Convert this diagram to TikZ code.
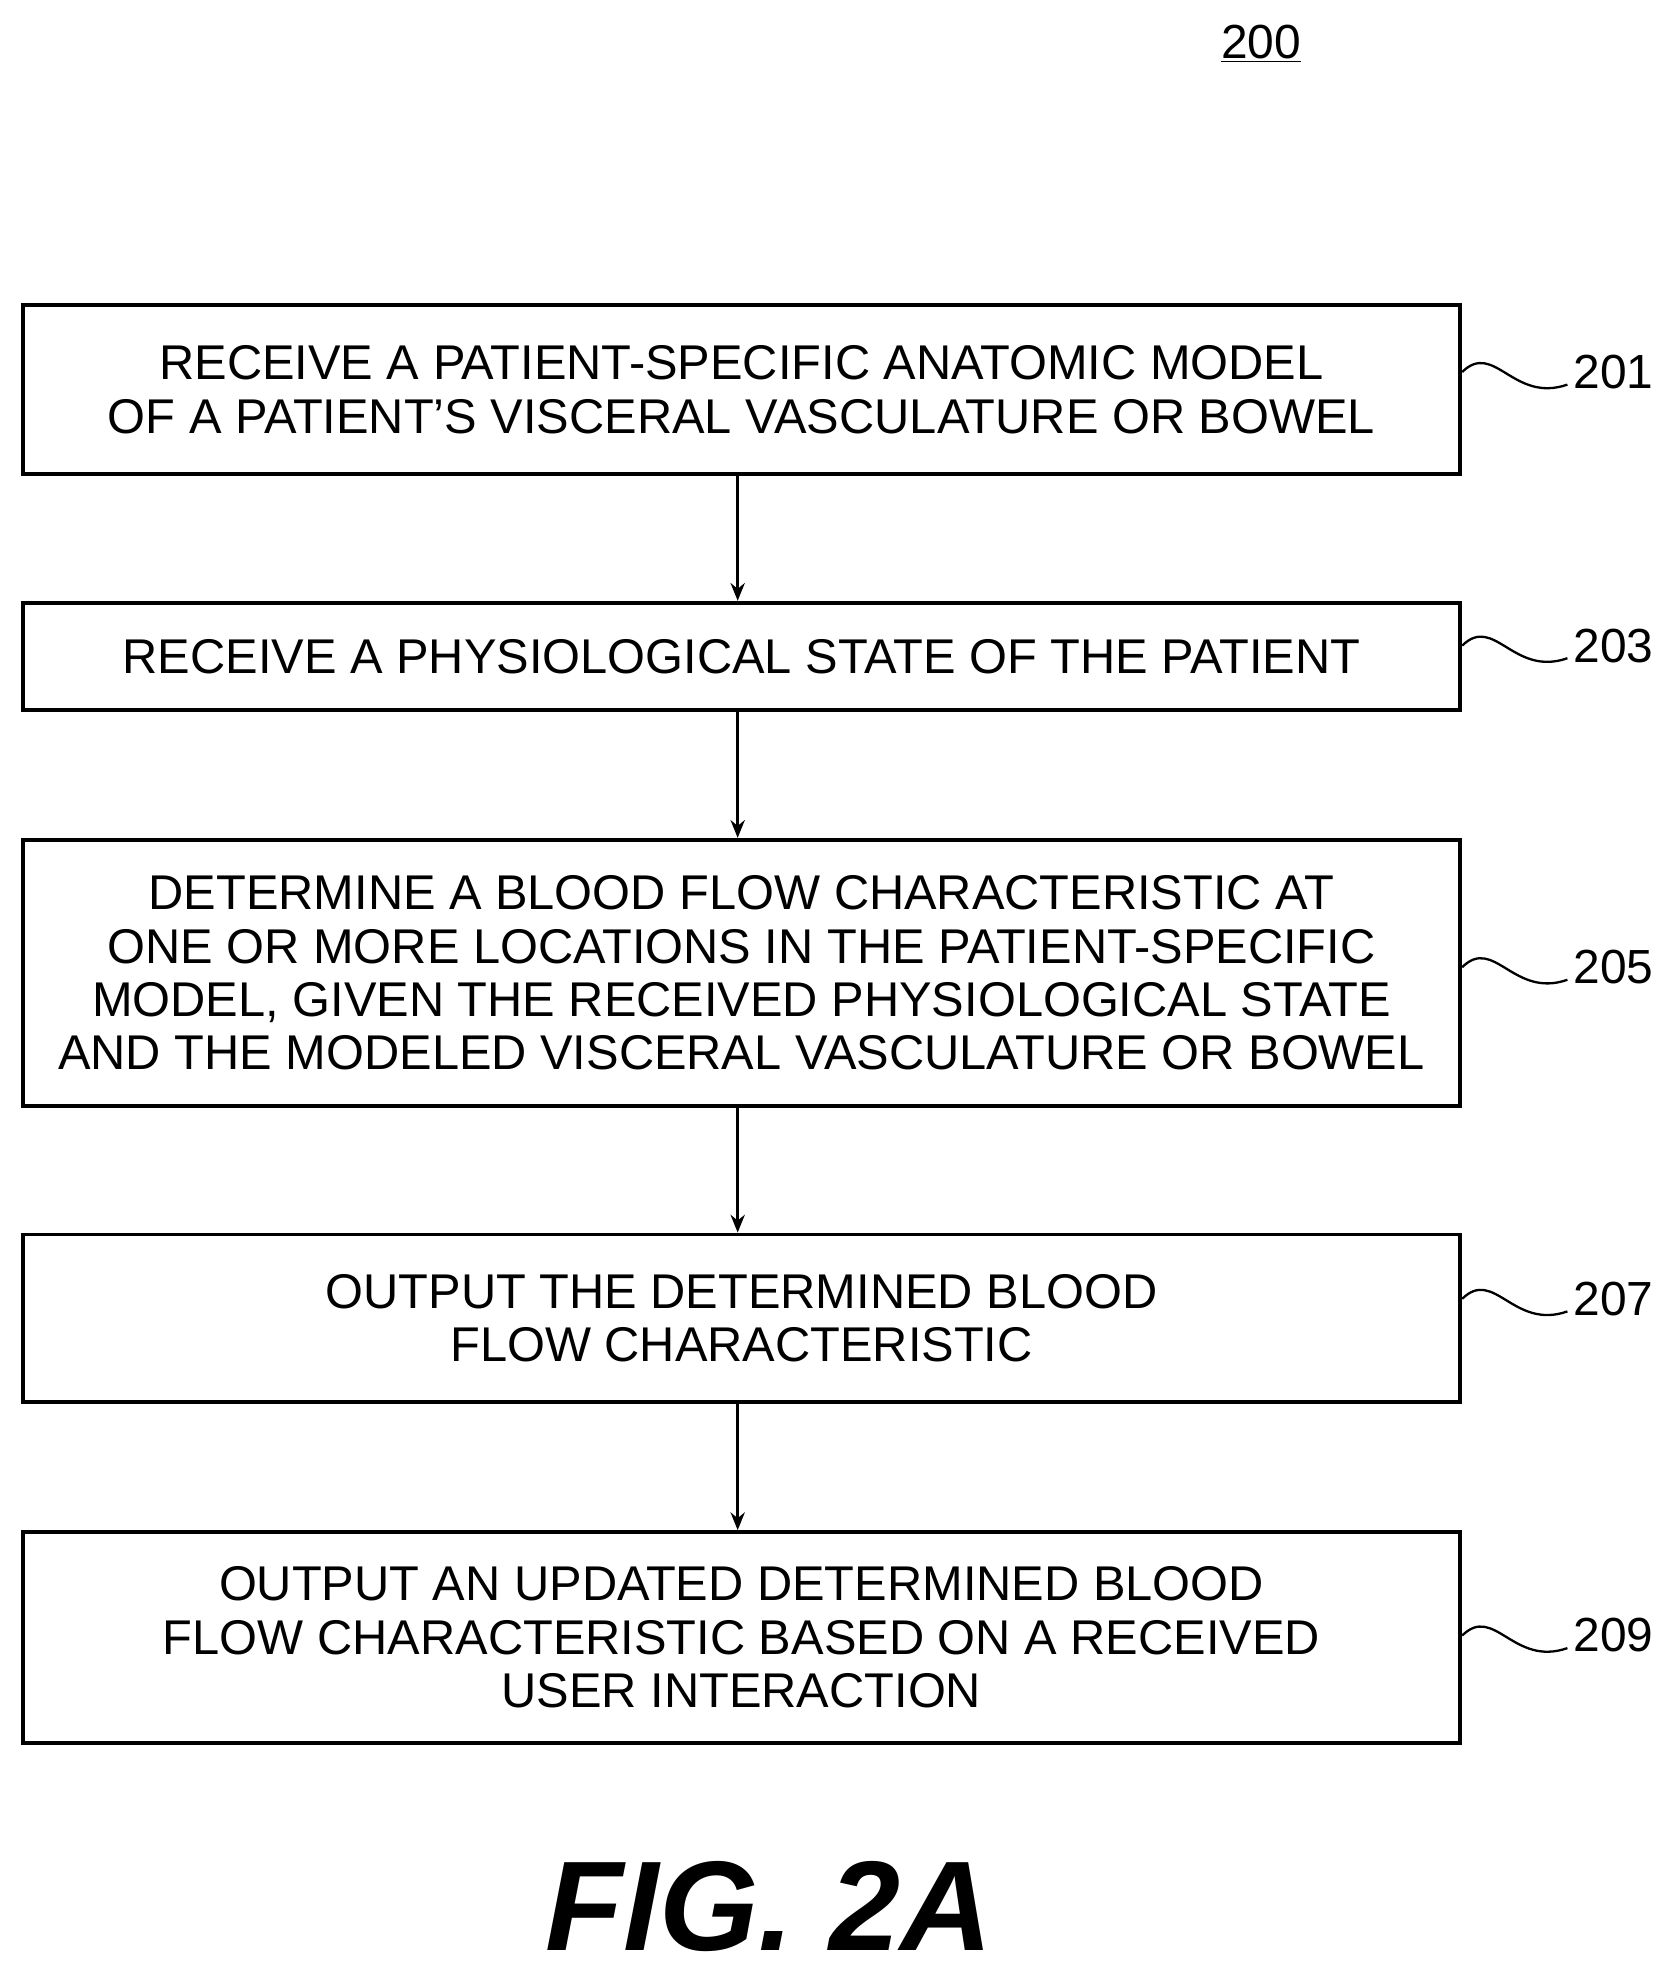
\documentclass[tikz,border=0pt]{standalone}
\usetikzlibrary{arrows.meta}
\usepackage{fontspec}
\setmainfont{Liberation Sans}
\begin{document}
\begin{tikzpicture}[x=0.025cm,y=-0.025cm,
  box/.style={draw,line width=2.2pt,inner sep=0pt,align=center,font=\fontsize{27.5}{30}\selectfont},
  lab/.style={font=\fontsize{27}{29}\selectfont,anchor=west},
  arr/.style={line width=1.6pt,-{Stealth[length=10pt,width=8pt]}},
  sq/.style={line width=1.3pt}]
\useasboundingbox (0,0) rectangle (1330,1571);
\node[font=\fontsize{27}{29}\selectfont] (n200) at (1000,35) {\underline{200}};
\node[box,minimum width=1140*0.025cm,minimum height=134*0.025cm] (b1) at (588,309) {RECEIVE A PATIENT-SPECIFIC ANATOMIC MODEL\\OF A PATIENT'S VISCERAL VASCULATURE OR BOWEL};
\node[box,minimum width=1140*0.025cm,minimum height=85*0.025cm] (b2) at (588,520.5) {RECEIVE A PHYSIOLOGICAL STATE OF THE PATIENT};
\node[box,minimum width=1140*0.025cm,minimum height=211*0.025cm] (b3) at (588,771.5) {DETERMINE A BLOOD FLOW CHARACTERISTIC AT\\ONE OR MORE LOCATIONS IN THE PATIENT-SPECIFIC\\MODEL, GIVEN THE RECEIVED PHYSIOLOGICAL STATE\\AND THE MODELED VISCERAL VASCULATURE OR BOWEL};
\node[box,minimum width=1140*0.025cm,minimum height=133*0.025cm] (b4) at (588,1045.5) {OUTPUT THE DETERMINED BLOOD\\FLOW CHARACTERISTIC};
\node[box,minimum width=1140*0.025cm,minimum height=167*0.025cm] (b5) at (588,1298.5) {OUTPUT AN UPDATED DETERMINED BLOOD\\FLOW CHARACTERISTIC BASED ON A RECEIVED\\USER INTERACTION};
\draw[arr] (b1.south -| 585,0) -- (b2.north -| 585,0);
\draw[arr] (b2.south -| 585,0) -- (b3.north -| 585,0);
\draw[arr] (b3.south -| 585,0) -- (b4.north -| 585,0);
\draw[arr] (b4.south -| 585,0) -- (b5.north -| 585,0);
\foreach \b/\y/\t in {b1/295/201,b2/512/203,b3/767/205,b4/1030/207,b5/1297/209}{
  \node[lab] (l\t) at (1243,\y) {\t};
  \draw[sq] (\b.east |- 0,\y) .. controls (1185,\y-25) and (1200,\y+25) .. (1243,\y+10);
}
\node[font=\fontsize{72}{80}\selectfont\bfseries\itshape] (fig) at (610,1512) {FIG. 2A};
\end{tikzpicture}
\end{document}
